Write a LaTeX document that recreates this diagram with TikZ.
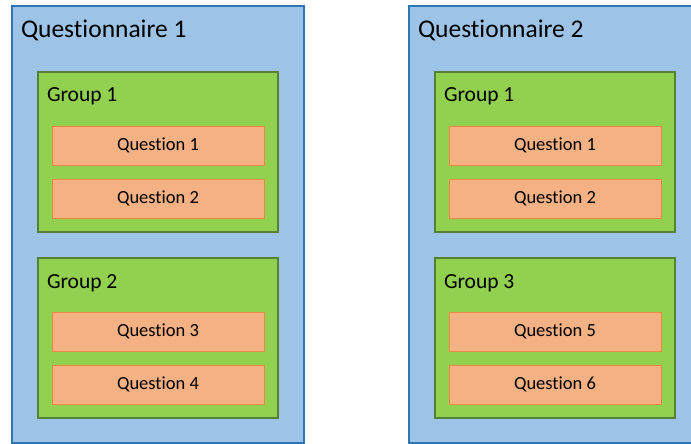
\documentclass[tikz,border=0pt]{standalone}
\usepackage{fontspec}
\setmainfont{Carlito}[Ligatures=NoCommon]
\usetikzlibrary{positioning}

\definecolor{qnfill}{HTML}{9DC3E6}
\definecolor{qnline}{HTML}{2E75B6}
\definecolor{grpfill}{HTML}{92D050}
\definecolor{grpline}{HTML}{548235}
\definecolor{qfill}{HTML}{F4B183}
\definecolor{qline}{HTML}{ED7D31}

\begin{document}
\begin{tikzpicture}[
        x=1pt, y=1pt,
        every node/.style={inner sep=0pt, outer sep=0pt},
        qnbox/.style={draw=qnline, fill=qnfill, line width=1.8pt, rectangle, minimum width=292pt, minimum height=437pt, anchor=north west},
        grpbox/.style={draw=grpline, fill=grpfill, line width=2.6pt, rectangle, minimum width=240pt, minimum height=160pt},
        qbox/.style={draw=qline!80!qfill, fill=qfill, line width=0.6pt, rectangle, minimum width=212pt, minimum height=39pt, font=\fontsize{18.5}{22}\selectfont},
        qntitle/.style={font=\fontsize{25.5}{30}\selectfont},
        grptitle/.style={font=\fontsize{21.5}{25}\selectfont}
    ]
        \useasboundingbox (0,0) rectangle (691,-444);
        \begin{scope}
        \clip (0,0) rectangle (691,-444);

        % questionnaire 1
        \node[qnbox] (qn1) at (12,-6) {};
        \node[qntitle, below right=32pt and 9pt of qn1.north west, anchor=base west] (qn1t) {Questionnaire 1};

        \node[grpbox, below right=66pt and 26pt of qn1.north west] (g11) {};
        \node[grptitle, below right=30pt and 9pt of g11.north west, anchor=base west] (g11t) {Group 1};
        \node[qbox, below right=54pt and 14pt of g11.north west] (q11) {Question 1};
        \node[qbox, below=14pt of q11] (q12) {Question 2};

        \node[grpbox, below=26pt of g11] (g12) {};
        \node[grptitle, below right=30pt and 9pt of g12.north west, anchor=base west] (g12t) {Group 2};
        \node[qbox, below right=54pt and 14pt of g12.north west] (q13) {Question 3};
        \node[qbox, below=14pt of q13] (q14) {Question 4};

        % questionnaire 2
        \node[qnbox] (qn2) at (409,-6) {};
        \node[qntitle, below right=32pt and 9pt of qn2.north west, anchor=base west] (qn2t) {Questionnaire 2};

        \node[grpbox, below right=66pt and 26pt of qn2.north west] (g21) {};
        \node[grptitle, below right=30pt and 9pt of g21.north west, anchor=base west] (g21t) {Group 1};
        \node[qbox, below right=54pt and 14pt of g21.north west] (q21) {Question 1};
        \node[qbox, below=14pt of q21] (q22) {Question 2};

        \node[grpbox, below=26pt of g21] (g23) {};
        \node[grptitle, below right=30pt and 9pt of g23.north west, anchor=base west] (g23t) {Group 3};
        \node[qbox, below right=54pt and 14pt of g23.north west] (q25) {Question 5};
        \node[qbox, below=14pt of q25] (q26) {Question 6};
        \end{scope}
    \end{tikzpicture}
\end{document}
